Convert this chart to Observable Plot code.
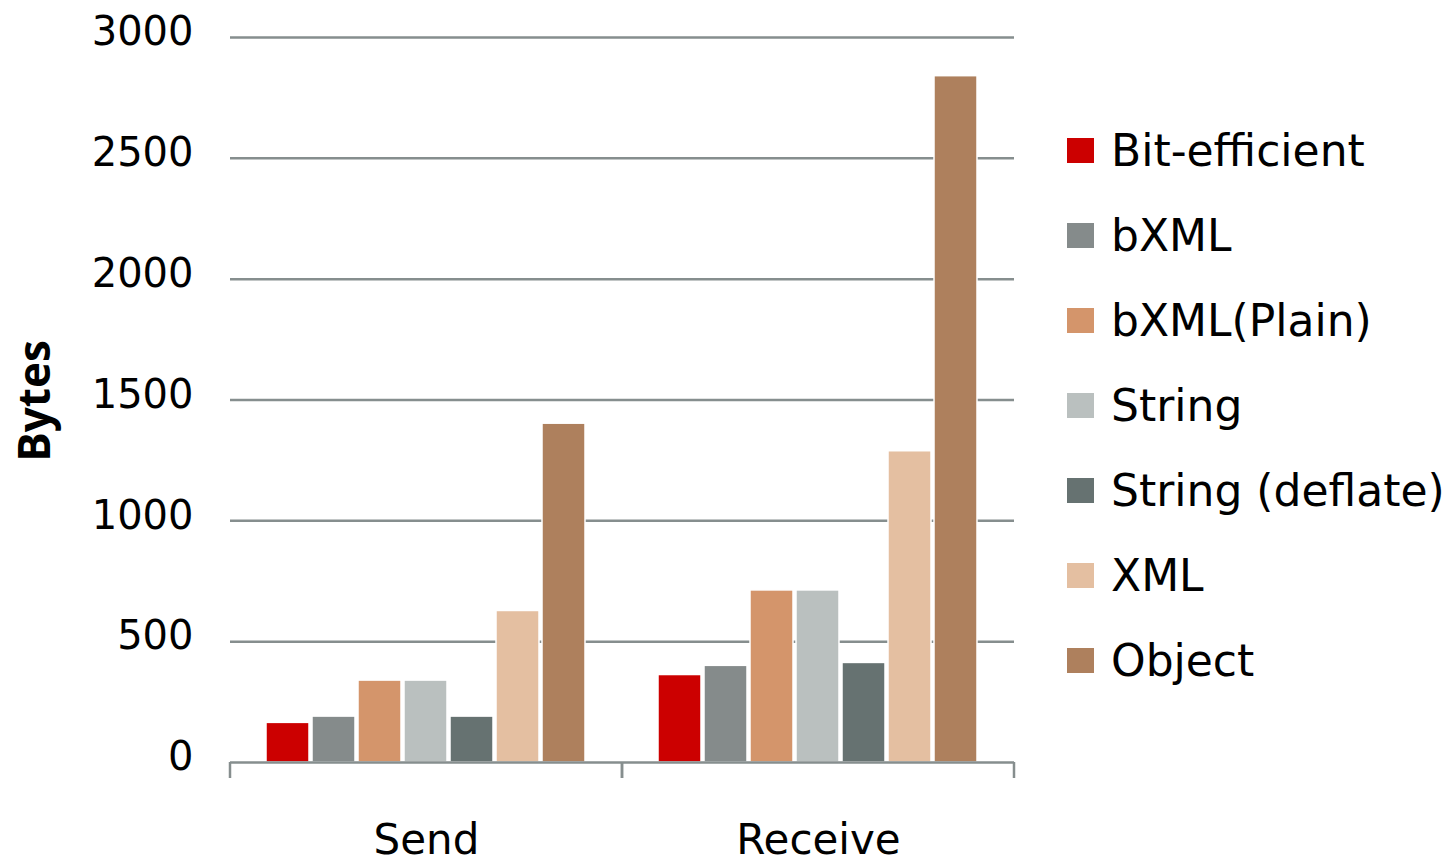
<!DOCTYPE html>
<html><head><meta charset="utf-8">
<script src="https://cdn.jsdelivr.net/npm/d3@7"></script>
<script src="https://cdn.jsdelivr.net/npm/@observablehq/plot@0.6"></script>
<style>
html,body{margin:0;padding:0;background:#fff;}
#wrap{position:relative;width:1451px;height:864px;overflow:hidden;background:#fff;}
#chart svg{display:block;}
#legend{position:absolute;left:1067px;top:0;font-family:"DejaVu Sans",sans-serif;font-size:44px;color:#000;}
.item{position:absolute;left:0;display:flex;align-items:center;white-space:nowrap;height:50px;}
.sw{width:27px;height:25px;margin-right:17px;flex:none;}
#ylabel{position:absolute;left:33px;top:401px;transform:translate(-50%,-50%) rotate(-90deg);font-family:"Open Sans",sans-serif;font-weight:700;font-size:44px;white-space:nowrap;color:#000;}
</style></head><body>
<div id="wrap"><div id="chart"></div><div id="ylabel">Bytes</div><div id="legend"></div></div>
<script>
const groups = ["Send", "Receive"];
const series = ["Bit-efficient", "bXML", "bXML(Plain)", "String", "String (deflate)", "XML", "Object"];
const sendValues = [164, 190, 339, 339, 190, 627, 1402];
const receiveValues = [362, 400, 712, 712, 412, 1288, 2840];
const colors = ["#cc0000", "#858b8b", "#d4956b", "#bac0bf", "#667271", "#e4bfa1", "#ae805d"];
const yTicks = [0, 500, 1000, 1500, 2000, 2500, 3000];
const gridTicks = [500, 1000, 1500, 2000, 2500, 3000];

const rows = [];
groups.forEach((g, gi) => {
  const vals = gi === 0 ? sendValues : receiveValues;
  series.forEach((s, i) => rows.push({group: g, series: s, value: vals[i]}));
});

const axisColor = "#868e8e";

function edgeTicks(index, scales, values, dims) {
  const g = d3.create("svg:g");
  const x = scales.x, y = scales.y;
  if (!x || typeof x.range !== "function") return g.node();
  const [x0, x1] = x.range();
  const y0 = y(0);
  for (const xv of [x0, x1]) {
    g.append("line").attr("x1", xv).attr("x2", xv).attr("y1", y0).attr("y2", y0 + 16)
      .attr("stroke", axisColor).attr("stroke-width", 2.5);
  }
  return g.node();
}

const chart = Plot.plot({
  width: 1451,
  height: 864,
  marginLeft: 230,
  marginRight: 437,
  marginTop: 37,
  marginBottom: 102,
  style: {fontFamily: "DejaVu Sans, sans-serif", fontSize: "40px", color: "#000", background: "#fff"},
  facet: {data: rows, x: "group"},
  fx: {domain: groups, padding: 0, label: null, tickSize: 0, tickPadding: 62},
  x: {domain: series, paddingInner: 0.06, paddingOuter: 0.75, axis: null},
  y: {domain: [0, 3000], ticks: yTicks, tickFormat: d3.format("d"), tickSize: 0, tickPadding: 37, label: null},
  color: {domain: series, range: colors},
  marks: [
    Plot.ruleY(gridTicks, {stroke: axisColor, strokeWidth: 2.5}),
    Plot.barY(rows, {x: "series", y: "value", fill: "series", stroke: "#fff", strokeWidth: 1.5}),
    Plot.ruleY([0], {stroke: axisColor, strokeWidth: 2.5}),
    edgeTicks
  ]
});
document.getElementById("chart").appendChild(chart);

chart.querySelectorAll('[aria-label^="fx-axis"] text').forEach(t => t.style.fontSize = "42px");
chart.querySelectorAll('g[aria-label^="y-axis"]').forEach(g => {
  g.setAttribute("transform", ((g.getAttribute("transform") || "") + " translate(0,-5)").trim());
});

const legend = document.getElementById("legend");
series.forEach((s, i) => {
  const item = document.createElement("div");
  item.className = "item";
  item.style.top = (125 + 85 * i) + "px";
  const sw = document.createElement("div");
  sw.className = "sw";
  sw.style.background = colors[i];
  const label = document.createElement("span");
  label.textContent = s;
  item.appendChild(sw);
  item.appendChild(label);
  legend.appendChild(item);
});
</script>
</body></html>
